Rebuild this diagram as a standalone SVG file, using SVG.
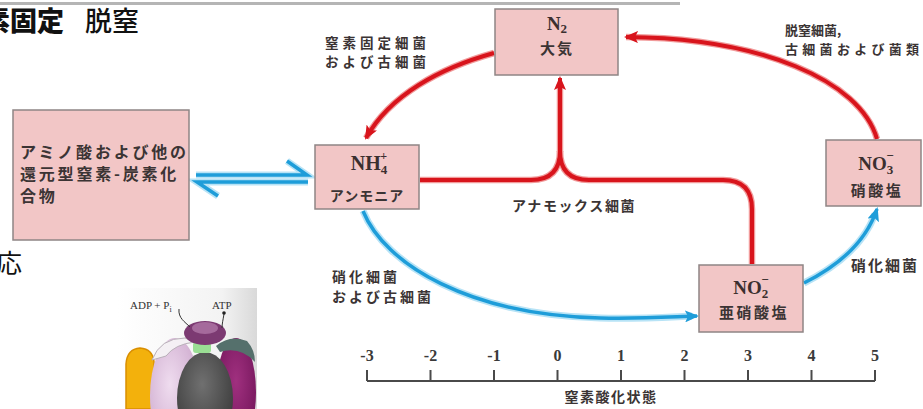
<svg xmlns="http://www.w3.org/2000/svg" width="923" height="409" viewBox="0 0 923 409">
  <style>
    .jp { font-family: "Noto Sans CJK JP", "Noto Sans", sans-serif; fill: #3b3434; font-weight: 700; }
    .chem { font-family: "Liberation Serif", "DejaVu Serif", serif; fill: #3b2f2f; font-weight: 700; }
    .box { fill: #f2c6c6; stroke: #8f8585; stroke-width: 1.5; }
    .red { fill: none; stroke: #d8141c; stroke-width: 4; }
    .redsoft { fill: none; stroke: #f19a9a; stroke-width: 6.5; }
    .blue { fill: none; stroke: #1e9dd9; stroke-width: 3.5; }
    .bluesoft { fill: none; stroke: #b7e3f6; stroke-width: 7; }
    .axis { fill: none; stroke: #4a4a4a; stroke-width: 2; }
    .num { font-family: "Liberation Serif", "DejaVu Serif", serif; font-size: 16px; font-weight: 700; fill: #3a3a3a; text-anchor: middle; }
  </style>
  <defs>
    <marker id="headRed" markerUnits="userSpaceOnUse" markerWidth="14" markerHeight="12" refX="12" refY="6" orient="auto">
      <path d="M0,0 L14,6 L0,12 L3,6 z" fill="#d8141c"/>
    </marker>
    <marker id="headBlue" markerUnits="userSpaceOnUse" markerWidth="14" markerHeight="12" refX="12" refY="6" orient="auto">
      <path d="M0,0 L14,6 L0,12 L3,6 z" fill="#1e9dd9"/>
    </marker>
    <linearGradient id="atpBg" x1="0" y1="0" x2="1" y2="0">
      <stop offset="0" stop-color="#ffffff"/>
      <stop offset="0.75" stop-color="#f3f3f3"/>
      <stop offset="1" stop-color="#d9d9d9"/>
    </linearGradient>
    <radialGradient id="grayBody" cx="0.45" cy="0.35" r="0.7">
      <stop offset="0" stop-color="#707070"/>
      <stop offset="1" stop-color="#383838"/>
    </radialGradient>
    <radialGradient id="lavBody" cx="0.4" cy="0.4" r="0.7">
      <stop offset="0" stop-color="#efdcef"/>
      <stop offset="1" stop-color="#c9a3c9"/>
    </radialGradient>
    <radialGradient id="magBody" cx="0.5" cy="0.4" r="0.7">
      <stop offset="0" stop-color="#a0307f"/>
      <stop offset="1" stop-color="#6e1256"/>
    </radialGradient>
    <clipPath id="atpClip">
      <rect x="117" y="288" width="140" height="121"/>
    </clipPath>
  </defs>

  <!-- page header rule and heading -->
  <line x1="0" y1="3.5" x2="680" y2="3.5" stroke="#b5b5b5" stroke-width="3"/>
  <text x="-17" y="31" font-family="Noto Sans CJK JP, sans-serif" font-size="27" font-weight="900" fill="#111">素固定</text>
  <text x="85" y="31" font-family="Noto Sans CJK JP, sans-serif" font-size="27" font-weight="500" fill="#111">脱窒</text>
  <text x="-4" y="273" font-family="Noto Sans CJK JP, sans-serif" font-size="26" font-weight="400" fill="#111">応</text>

  <!-- connectors -->
  <g id="connectors">
    <!-- nitrogen fixation: N2 -> NH4+ -->
    <path class="redsoft" d="M494,53 C440,68 390,95 366,138"/>
    <path class="red" d="M494,53 C440,68 390,95 366,138" marker-end="url(#headRed)"/>
    <!-- denitrification: NO3- -> N2 -->
    <path class="redsoft" d="M877,139 C860,80 760,38 626,37"/>
    <path class="red" d="M877,139 C860,80 760,38 626,37" marker-end="url(#headRed)"/>
    <!-- anammox: NH4+ and NO2- -> N2 -->
    <path class="redsoft" d="M420,180 H531 Q560,180 560,151"/>
    <path class="redsoft" d="M752,264 V209 Q752,180 723,180 H589 Q560,180 560,151"/>
    <path class="redsoft" d="M560,152 V84"/>
    <path class="red" d="M420,180 H531 Q560,180 560,151"/>
    <path class="red" d="M752,264 V209 Q752,180 723,180 H589 Q560,180 560,151"/>
    <path class="red" d="M560,152 V78" marker-end="url(#headRed)"/>
    <!-- nitrification: NH4+ -> NO2- -->
    <path class="bluesoft" d="M363,211 C385,265 470,315 600,318 C640,319 668,317 692,316"/>
    <path class="blue" d="M363,211 C385,265 470,315 600,318 C640,319 668,317 697,316" marker-end="url(#headBlue)"/>
    <!-- nitrification: NO2- -> NO3- -->
    <path class="bluesoft" d="M804,283 C838,266 864,244 875,214"/>
    <path class="blue" d="M804,283 C838,266 866,242 877,209" marker-end="url(#headBlue)"/>
    <!-- equilibrium with reduced organic nitrogen -->
    <path class="bluesoft" d="M196,175 H307 L287,161"/>
    <path class="bluesoft" d="M308,182 H197 L218,196"/>
    <path class="blue" d="M196,175 H307 L287,161" stroke-linejoin="miter"/>
    <path class="blue" d="M308,182 H197 L218,196" stroke-linejoin="miter"/>
  </g>

  <!-- pathway labels -->
  <text class="jp" x="325" y="48" font-size="13.5" letter-spacing="4">窒素固定細菌</text>
  <text class="jp" x="325" y="67" font-size="13.5" letter-spacing="4">および古細菌</text>
  <text class="jp" x="785" y="35" font-size="13">脱窒細菌,</text>
  <text class="jp" x="785" y="54" font-size="13" letter-spacing="4.3">古細菌および菌類</text>
  <text class="jp" x="512" y="211" font-size="14" letter-spacing="1.6">アナモックス細菌</text>
  <text class="jp" x="332" y="282" font-size="14" letter-spacing="3">硝化細菌</text>
  <text class="jp" x="332" y="302" font-size="14" letter-spacing="3">および古細菌</text>
  <text class="jp" x="851" y="271" font-size="15" letter-spacing="2">硝化細菌</text>

  <!-- nodes -->
  <g id="organic">
    <rect class="box" x="13" y="110" width="176" height="130"/>
    <text class="jp" x="20" y="158" font-size="16" letter-spacing="2.8">アミノ酸および他の</text>
    <text class="jp" x="20" y="180" font-size="16" letter-spacing="2.8">還元型窒素-炭素化</text>
    <text class="jp" x="20" y="202" font-size="16" letter-spacing="2.8">合物</text>
  </g>

  <g id="n2">
    <rect class="box" x="495" y="9" width="123" height="66"/>
    <text class="chem" x="557" y="30" font-size="19" text-anchor="middle">N<tspan font-size="13" dy="3">2</tspan></text>
    <text class="jp" x="557" y="54" font-size="15" letter-spacing="2" text-anchor="middle">大気</text>
  </g>

  <g id="nh4">
    <rect class="box" x="315" y="145" width="104" height="64"/>
    <text class="chem" x="369" y="170" font-size="20" text-anchor="middle">NH<tspan font-size="13" dy="4">4</tspan><tspan font-size="12" dx="-7" dy="-14">+</tspan></text>
    <text class="jp" x="367" y="201" font-size="14" letter-spacing="1" text-anchor="middle">アンモニア</text>
  </g>

  <g id="no3">
    <rect class="box" x="826" y="140" width="95" height="66"/>
    <text class="chem" x="876" y="170" font-size="19" font-weight="400" text-anchor="middle">NO<tspan font-size="13" dy="4">3</tspan><tspan font-size="13" dx="-7" dy="-14">−</tspan></text>
    <text class="jp" x="877" y="196" font-size="15" letter-spacing="2.5" text-anchor="middle">硝酸塩</text>
  </g>

  <g id="no2">
    <rect class="box" x="699" y="265" width="104" height="67"/>
    <text class="chem" x="751" y="294" font-size="19" font-weight="400" text-anchor="middle">NO<tspan font-size="13" dy="4">2</tspan><tspan font-size="13" dx="-7" dy="-14">−</tspan></text>
    <text class="jp" x="754" y="318" font-size="15" letter-spacing="2.5" text-anchor="middle">亜硝酸塩</text>
  </g>

  <!-- oxidation-state scale -->
  <g id="scale">
    <path class="axis" d="M367,381 H875 M367,370 V381 M430.5,370 V381 M494,370 V381 M557.5,370 V381 M621,370 V381 M684.5,370 V381 M748,370 V381 M811.5,370 V381 M875,370 V381"/>
    <text class="num" x="367" y="361">-3</text>
    <text class="num" x="430.5" y="361">-2</text>
    <text class="num" x="494" y="361">-1</text>
    <text class="num" x="557.5" y="361">0</text>
    <text class="num" x="621" y="361">1</text>
    <text class="num" x="684.5" y="361">2</text>
    <text class="num" x="748" y="361">3</text>
    <text class="num" x="811.5" y="361">4</text>
    <text class="num" x="875" y="361">5</text>
    <text class="jp" x="611" y="402" font-size="14" letter-spacing="1.5" text-anchor="middle">窒素酸化状態</text>
  </g>

  <!-- ATP synthase illustration -->
  <g id="atp-synthase" clip-path="url(#atpClip)">
    <rect x="117" y="288" width="140" height="121" fill="url(#atpBg)"/>
    <path d="M126,409 V364 Q127,349 140,348 Q153,349 154,362 V409 z" fill="#f3b10c" stroke="#d98e00" stroke-width="1.5"/>
    <ellipse cx="175" cy="396" rx="25" ry="58" fill="url(#lavBody)"/>
    <path d="M152,360 Q160,338 185,338 L195,342 Q175,344 166,356 z" fill="#f4f0f4" stroke="#b9b0b9" stroke-width="1"/>
    <ellipse cx="236" cy="392" rx="20" ry="54" fill="url(#magBody)"/>
    <path d="M216,346 Q230,334 247,341 Q255,350 255,362 Q240,346 220,352 z" fill="#55706c"/>
    <ellipse cx="205" cy="398" rx="28" ry="46" fill="url(#grayBody)"/>
    <rect x="193" y="342" width="18" height="11" rx="3" fill="#9ade94"/>
    <ellipse cx="205" cy="333" rx="21" ry="12" fill="#7c3a72"/>
    <ellipse cx="205" cy="328" rx="13" ry="6" fill="#a56a9c"/>
    <path d="M179,309 C178,318 185,322 190,327" fill="none" stroke="#333" stroke-width="1"/>
    <path d="M224,314 C223,320 222,324 222,328" fill="none" stroke="#333" stroke-width="1"/>
    <circle cx="224" cy="313" r="1.8" fill="#222"/>
    <text x="130" y="309" font-family="Liberation Serif, serif" font-size="11" fill="#333">ADP + P<tspan font-size="8" dy="3">i</tspan></text>
    <text x="212" y="309" font-family="Liberation Serif, serif" font-size="11" fill="#333">ATP</text>
  </g>
</svg>
